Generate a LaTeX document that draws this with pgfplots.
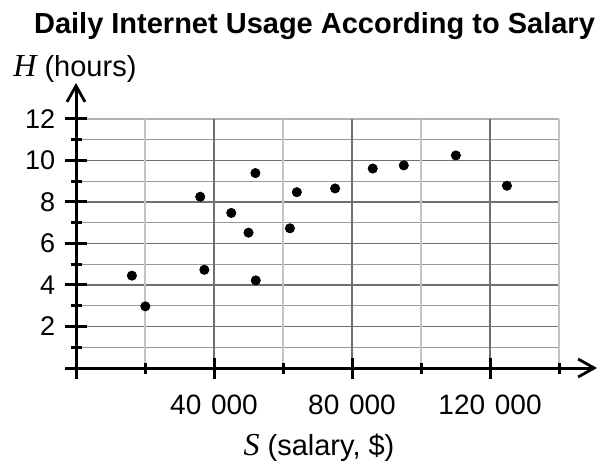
\documentclass[border=0pt]{standalone}
\usepackage{fontspec}
\setmainfont{Liberation Sans}
\newfontfamily\seriffont{Liberation Serif}
\usepackage{pgfplots}
\pgfplotsset{compat=1.18}
\usetikzlibrary{arrows.meta}
\definecolor{gmaj}{HTML}{707070}
\definecolor{gmin}{HTML}{9A9A9A}
\definecolor{gtop}{HTML}{B0B0B0}
\definecolor{gvmin}{HTML}{C4C4C4}
\begin{document}
\begin{tikzpicture}
\begin{axis}[
  at={(0,0)}, anchor=south west,
  scale only axis, width=260.5pt, height=142.5pt,
  xmin=0, xmax=151000, ymin=0, ymax=13.73,
  axis lines=left,
  axis line style={line width=1.5pt, -{Straight Barb[length=8pt,width=9pt,line width=1.4pt]}},
  xtick={0,40000,80000,120000},
  xticklabels={,40\hspace{0.35em}000,80\hspace{0.35em}000,120\hspace{0.35em}000},
  minor xtick={20000,60000,100000,140000},
  ytick={0,2,4,6,8,10,12},
  yticklabels={,2,4,6,8,10,12},
  minor ytick={1,3,5,7,9,11},
  tick align=center, major tick length=10.5pt, minor tick length=5.5pt,
  every tick/.style={line width=1.5pt, black},
  scaled x ticks=false,
  /pgf/number format/assume math mode=true,
  ticklabel style={font=\fontsize{13.5}{16}\selectfont, inner sep=0pt},
  xticklabel style={anchor=base, yshift=-18pt, font=\fontsize{14}{16}\selectfont},
  yticklabel style={anchor=east, xshift=-5pt},
  axis on top,
  clip=false,
]
\pgfplotsinvokeforeach{1,3,5,7,9,11}{\draw[gmin, line width=0.6pt] (axis cs:0,#1) -- (axis cs:140000,#1);}
\pgfplotsinvokeforeach{2,4,6,8,10}{\draw[gmaj, line width=0.8pt] (axis cs:0,#1) -- (axis cs:140000,#1);}
\draw[gtop, line width=0.8pt] (axis cs:0,12) -- (axis cs:140000,12);
\pgfplotsinvokeforeach{20000,60000,100000,140000}{\draw[gvmin, line width=0.7pt] (axis cs:#1,0) -- (axis cs:#1,12);}
\pgfplotsinvokeforeach{40000,80000,120000}{\draw[gmaj, line width=0.8pt] (axis cs:#1,0) -- (axis cs:#1,12);}
\addplot[only marks, mark=*, mark size=2.3pt, black] coordinates {
(16200,4.45) (20100,2.97) (36000,8.25) (37200,4.73) (45000,7.47)
(50000,6.52) (52000,9.39) (52100,4.22) (62000,6.73) (64000,8.47)
(75100,8.65) (86000,9.61) (95000,9.76) (110100,10.24) (124900,8.78)
};
\end{axis}
\node[anchor=base, inner sep=0pt, font=\bfseries\fontsize{14.5}{17}\selectfont] at (119.25pt,167pt) {Daily Internet Usage According to Salary};
\node[anchor=base west, inner sep=0pt, font=\fontsize{14.5}{17}\selectfont] at (-31.5pt,145.5pt) {{\seriffont\itshape\fontsize{16}{18}\selectfont H} (hours)};
\node[anchor=base, inner sep=0pt, font=\fontsize{14.5}{17}\selectfont] at (121.5pt,-43.5pt) {{\seriffont\itshape\fontsize{16}{18}\selectfont S} (salary, \$)};
\pgfresetboundingbox
\useasboundingbox (-38pt,-48.5pt) rectangle (266pt,184pt);
\end{tikzpicture}
\end{document}
